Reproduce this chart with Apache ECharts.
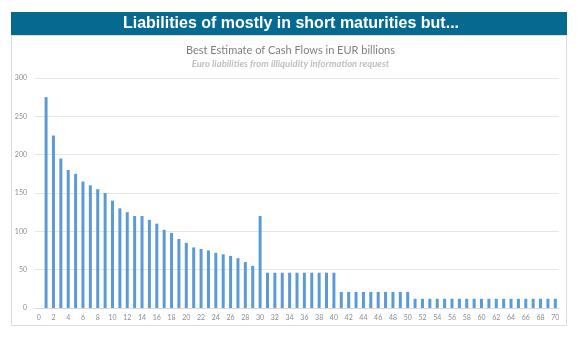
<!DOCTYPE html>
<html>
<head>
<meta charset="utf-8">
<script src="https://cdn.jsdelivr.net/npm/echarts@6/dist/echarts.min.js"></script>
<style>
  html, body { margin: 0; padding: 0; background: #fff; }
  #chart { width: 581px; height: 340px; }
</style>
</head>
<body>
<div id="chart"></div>
<script>
// 年份 0 ~ 70
const years = [];
for (let i = 0; i <= 70; i++) years.push(String(i));

// 现金流最佳估计（十亿欧元），第 0 年无数据
const cashFlows = [
  null, 275, 225, 195, 180, 175, 165, 160, 155, 150,
  140, 130, 125, 120, 120, 115, 110, 102, 98, 90,
  85, 79, 77, 75, 72, 70, 68, 65, 60, 55,
  120, 46, 46, 46, 46, 46, 46, 46, 46, 46,
  46, 21, 21, 21, 21, 21, 21, 21, 21, 21,
  21, 12, 12, 12, 12, 12, 12, 12, 12, 12,
  12, 12, 12, 12, 12, 12, 12, 12, 12, 12,
  12
];

const headerText = 'Liabilities of mostly in short maturities but...';
const chartTitle = 'Best Estimate of Cash Flows in EUR billions';
const chartSubtitle = 'Euro liabilities from illiquidity information request';

let cashChart = echarts.init(document.getElementById('chart'));
let cashChartOptions = {
  animation: false,
  // 顶部标题栏 + 图表外框
  graphic: [
    {
      type: 'rect',
      shape: { x: 11.5, y: 35.5, width: 555, height: 290 },
      style: { fill: '#fff', stroke: '#dcdcdc', lineWidth: 1 },
      z: -10
    },
    {
      type: 'rect',
      shape: { x: 11, y: 12, width: 556, height: 23 },
      style: { fill: '#06698f' }
    },
    {
      type: 'text',
      x: 291,
      y: 23.5,
      style: {
        text: headerText,
        fill: '#fff',
        font: 'bold 16px "Liberation Sans", Arial, sans-serif',
        align: 'center',
        verticalAlign: 'middle'
      }
    }
  ],
  title: {
    text: chartTitle,
    subtext: chartSubtitle,
    left: 'center',
    top: 40,
    itemGap: 3,
    textStyle: {
      color: '#7f7f7f',
      fontSize: 11,
      fontWeight: 'normal',
      fontFamily: 'Lato'
    },
    subtextStyle: {
      color: '#bfbfbf',
      fontSize: 9.5,
      fontStyle: 'italic',
      fontWeight: 'bold',
      fontFamily: 'Lato'
    }
  },
  grid: {
    left: 35,
    right: 22,
    top: 78,
    bottom: 32
  },
  xAxis: {
    type: 'category',
    data: years,
    axisTick: { show: false },
    axisLine: {
      lineStyle: { color: '#d9d9d9' }
    },
    axisLabel: {
      interval: 1,
      color: '#8c8c8c',
      fontSize: 7,
      fontFamily: 'Lato',
      margin: 6
    }
  },
  yAxis: {
    type: 'value',
    min: 0,
    max: 300,
    interval: 50,
    axisLine: { show: false },
    axisTick: { show: false },
    axisLabel: {
      color: '#8c8c8c',
      fontSize: 7,
      fontFamily: 'Lato',
      margin: 8
    },
    splitLine: {
      lineStyle: { color: '#e6e6e6' }
    }
  },
  series: [
    {
      name: 'Cash flows',
      type: 'bar',
      data: cashFlows,
      barWidth: 3,
      itemStyle: { color: '#5b9bd5' }
    }
  ]
};
cashChart.setOption(cashChartOptions);
</script>
</body>
</html>
